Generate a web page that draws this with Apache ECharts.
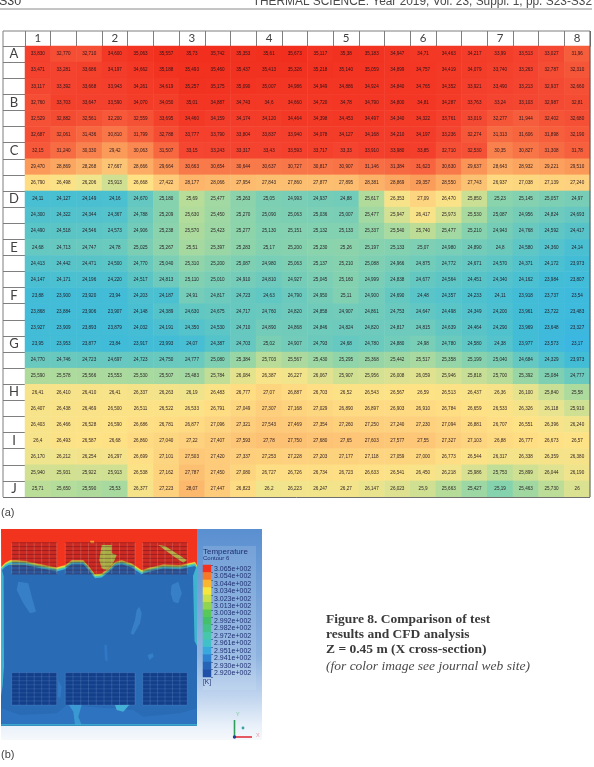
<!DOCTYPE html>
<html>
<head>
<meta charset="utf-8">
<style>html,body{margin:0;padding:0;background:#fff}#chart{width:594px;height:767px}</style>
<script src="https://cdn.jsdelivr.net/npm/echarts@6/dist/echarts.min.js"></script>
</head>
<body>
<div id="chart"></div>
<script>
// Measured temperatures (deg C) at the test grid, one list per row, written with decimal commas.
const row01 = ['33,830','32,770','32,710','34,600','35,063','35,557','35,73','35,742','35,353','35,61','35,673','35,117','35,38','35,183','34,947','34,71','34,463','34,217','33,99','33,513','33,027','31,96'];
const row02 = ['33,471','33,281','33,686','34,197','34,662','35,188','35,493','35,460','35,437','35,413','35,326','35,218','35,140','35,059','34,899','34,757','34,419','34,079','33,740','33,263','32,787','32,310'];
const row03 = ['33,117','33,392','33,668','33,943','34,261','34,619','35,257','35,175','35,090','35,007','34,986','34,949','34,886','34,924','34,840','34,765','34,352','33,921','33,490','33,213','32,937','32,660'];
const row04 = ['32,760','33,703','33,647','33,590','34,070','34,050','35,01','34,887','34,743','34,6','34,660','34,720','34,78','34,790','34,800','34,81','34,287','33,763','33,24','33,103','32,987','32,81'];
const row05 = ['32,529','32,882','32,561','32,200','32,559','33,695','34,460','34,159','34,174','34,120','34,464','34,398','34,453','34,497','34,340','34,322','33,761','33,019','32,277','31,944','32,402','32,680'];
const row06 = ['32,687','32,061','31,436','30,810','31,799','32,788','33,777','33,790','33,804','33,837','33,940','34,078','34,127','34,168','34,210','34,197','33,236','32,274','31,313','31,606','31,898','32,190'];
const row07 = ['32,15','31,240','30,330','29,42','30,063','31,507','33,15','33,243','33,317','33,43','33,593','33,717','33,33','33,910','33,980','33,85','32,710','32,530','30,35','30,827','31,308','31,78'];
const row08 = ['29,470','28,869','28,268','27,667','28,666','29,664','30,663','30,654','30,644','30,637','30,727','30,817','30,907','31,146','31,384','31,623','30,630','29,637','28,643','28,932','29,221','29,510'];
const row09 = ['26,790','26,498','26,206','25,913','26,668','27,422','28,177','28,066','27,954','27,843','27,860','27,877','27,895','28,381','28,869','29,357','28,550','27,743','26,937','27,038','27,139','27,240'];
const row10 = ['24,11','24,127','24,149','24,16','24,670','25,180','25,69','25,477','25,263','25,05','24,993','24,937','24,88','25,617','26,353','27,09','26,470','25,850','25,23','25,145','25,057','24,97'];
const row11 = ['24,300','24,322','24,344','24,367','24,788','25,209','25,630','25,450','25,270','25,090','25,063','25,036','25,007','25,477','25,947','26,417','25,973','25,530','25,087','24,956','24,824','24,693'];
const row12 = ['24,490','24,518','24,546','24,573','24,906','25,238','25,570','25,423','25,277','25,130','25,151','25,132','25,133','25,337','25,540','25,740','25,477','25,210','24,943','24,768','24,592','24,417'];
const row13 = ['24,68','24,713','24,747','24,78','25,025','25,267','25,51','25,397','25,283','25,17','25,200','25,230','25,26','25,197','25,133','25,07','24,980','24,890','24,8','24,580','24,360','24,14'];
const row14 = ['24,413','24,442','24,471','24,500','24,770','25,040','25,310','25,200','25,087','24,980','25,063','25,137','25,210','25,088','24,966','24,875','24,772','24,671','24,570','24,371','24,172','23,973'];
const row15 = ['24,147','24,171','24,196','24,220','24,517','24,813','25,110','25,010','24,910','24,810','24,927','25,045','25,160','24,999','24,838','24,677','24,564','24,451','24,340','24,162','23,984','23,807'];
const row16 = ['23,88','23,900','23,920','23,94','24,203','24,187','24,91','24,817','24,723','24,63','24,790','24,950','25,11','24,900','24,690','24,48','24,357','24,233','24,11','23,918','23,737','23,54'];
const row17 = ['23,868','23,884','23,906','23,907','24,148','24,389','24,630','24,675','24,717','24,760','24,820','24,858','24,907','24,861','24,753','24,647','24,498','24,349','24,200','23,961','23,722','23,483'];
const row18 = ['23,927','23,909','23,893','23,879','24,032','24,191','24,350','24,530','24,710','24,890','24,868','24,846','24,824','24,820','24,817','24,815','24,639','24,464','24,290','23,969','23,648','23,327'];
const row19 = ['23,95','23,953','23,877','23,84','23,917','23,993','24,07','24,387','24,703','25,02','24,907','24,793','24,68','24,780','24,880','24,98','24,780','24,580','24,38','23,977','23,573','23,17'];
const row20 = ['24,770','24,746','24,723','24,697','24,723','24,750','24,777','25,080','25,384','25,703','25,567','25,430','25,295','25,368','25,442','25,517','25,358','25,199','25,040','24,684','24,329','23,973'];
const row21 = ['25,590','25,578','25,566','25,553','25,530','25,507','25,483','25,784','26,084','26,387','26,227','26,067','25,907','25,956','26,008','26,059','25,946','25,818','25,700','25,392','25,084','24,777'];
const row22 = ['26,41','26,410','26,410','26,41','26,337','26,263','26,19','26,483','26,777','27,07','26,887','26,703','26,52','26,543','26,567','26,59','26,513','26,437','26,36','26,100','25,840','25,58'];
const row23 = ['26,407','26,438','26,469','26,500','26,511','26,522','26,533','26,791','27,049','27,307','27,168','27,029','26,890','26,897','26,903','26,910','26,784','26,659','26,533','26,326','26,118','25,910'];
const row24 = ['26,403','26,466','26,528','26,590','26,686','26,781','26,877','27,096','27,321','27,543','27,469','27,354','27,260','27,250','27,240','27,230','27,094','26,881','26,707','26,551','26,396','26,240'];
const row25 = ['26,4','26,493','26,587','26,68','26,860','27,040','27,22','27,407','27,593','27,78','27,750','27,680','27,65','27,603','27,577','27,55','27,327','27,103','26,88','26,777','26,673','26,57'];
const row26 = ['26,170','26,212','26,254','26,297','26,699','27,101','27,503','27,420','27,337','27,253','27,228','27,203','27,177','27,118','27,059','27,000','26,773','26,544','26,317','26,338','26,359','26,380'];
const row27 = ['25,940','25,931','25,922','25,913','26,538','27,162','27,787','27,450','27,080','26,727','26,726','26,734','26,723','26,633','26,541','26,450','26,218','25,986','25,753','25,899','26,044','26,190'];
const row28 = ['25,71','25,650','25,590','25,53','26,377','27,223','28,07','27,447','26,823','26,2','26,223','26,247','26,27','26,147','26,023','25,9','25,663','25,427','25,19','25,463','25,730','26'];
const tableRows = [row01,row02,row03,row04,row05,row06,row07,row08,row09,row10,row11,row12,row13,row14,row15,row16,row17,row18,row19,row20,row21,row22,row23,row24,row25,row26,row27,row28];

// Column and row headings of the test grid; only every third position is numbered or lettered.
const columnHeads = ['1','','','2','','','3','','','4','','','5','','','6','','','7','','','8'];
const rowHeads = ['A','','','B','','','C','','','D','','','E','','','F','','','G','','','H','','','I','','','J'];

// Temperature scale shared by the table cells: [deg C, colour].
const tableScale = [[23.0,'#39b6e4'],[24.0,'#43bdd6'],[24.6,'#5fc6c4'],[25.2,'#86d2ae'],[25.7,'#b9dd98'],[26.2,'#f0e48c'],[26.6,'#fee286'],[27.3,'#fdcf7c'],[28.1,'#fcb76c'],[29.4,'#fb9c5a'],[30.6,'#f87a4a'],[32.0,'#f65c3b'],[33.2,'#f44530'],[35.8,'#f22e1d']];

// CFD colour bar: contour levels from hottest to coldest.
const contourLevels = ['3.065e+002','3.054e+002','3.044e+002','3.034e+002','3.023e+002','3.013e+002','3.003e+002','2.992e+002','2.982e+002','2.972e+002','2.961e+002','2.951e+002','2.941e+002','2.930e+002','2.920e+002'];
const contourColors = ['#f4321e','#f6792a','#fbb52e','#f6e63e','#c9e04a','#90d44f','#58c858','#44c06c','#45c28c','#46c6aa','#42c0c8','#39a8dc','#2f82cf','#2764b5','#2050a8'];

// Cross-section geometry in section units (origin at the lower left corner of the tank).
const hotFront = [[0.3,159.3],[4,163.3],[9,166],[15.7,166],[24,165.3],[35.7,162.7],[55.7,158.7],[64,161],[70.7,166],[77.3,166],[82.3,166],[88.3,159.3],[94,152],[100.7,152.7],[107.3,157.7],[114,164.3],[120.7,166],[130.7,162.7],[140.7,156],[149,158.7],[162.3,161.7],[179,161],[189,163.3],[194,164.3],[196,161]];
const frontBands = [[-4.2,'#3eb6cf'],[-2.9,'#5fcb9a'],[-1.9,'#bfe04c'],[-1.1,'#f7d83a'],[-0.5,'#f89030'],[0,'#f2341f']];
const leftWall = [[0,160],[2.6,150],[3,60],[1.6,40],[0,30]];
const rightWall = [[196,161],[192,150],[193.5,85],[196,80]];
const floorHaze = [[0.7,1],[195.7,1],[195.7,17.7],[179,12.7],[142.3,9.3],[132.3,16],[65.7,21],[55.7,12.7],[19,11],[0.7,17.7]];
const leftPlume = [[17.3,144.3],[27.3,142.7],[30.7,129.3],[35,114.3],[29,112.7],[22.3,122.7],[15.7,136]];
const rightPlume = [[170.7,141],[177.3,144.3],[180.7,132.7],[177.3,122.7],[172.3,124.3],[169.7,132.7]];
const midPlume = [[138.3,119.3],[140.7,112.7],[139,102.7],[132.3,91],[129.7,92.7],[134,106],[135.7,116]];
const upperSpot = [[103.3,81],[106,81],[106.7,64.3],[104,66]];
const lowerSpot = [[146.7,71],[151.7,72.7],[152.7,69.3],[148.3,66]];
const sideSpot = [[57.3,46],[60.7,39.3],[59.3,27.7],[56.7,29.3]];
const floorJetA = [[67.3,22],[80.7,21],[77.3,9.3],[80.7,1],[74,1],[72.3,14.3]];
const floorJetB = [[114,21],[129,22],[122.3,14.3],[115.7,16]];
const floorStrip = [[0,0.6],[196,0.6],[196,1.8],[0,1.8]];
const leftBump = [[4,163],[10.7,171],[17.3,174.3],[22.3,169.3],[25.7,163]];
const midBump = [[70.7,165],[75.7,172.7],[81.7,171],[84,164]];
const wallBump = [[190.7,165],[194,174.3],[195.7,163]];
const midStreak = [[100.7,181],[110.7,181],[110.7,172.7],[115.7,171],[112.3,162.7],[105.7,156],[100.7,157.7],[98.3,166]];
const diagonalStreak = [[157.3,181],[164,180],[185.7,166],[182.3,163.3],[170.7,171]];
const hotSpot = [[89,185.3],[93,185.3],[93.3,182.7],[89.7,182.7]];

// Tube bundles: [left, right, column count] for each block and [bottom, top] for each tier.
const bundleBlocks = [[10.7,55.7,6],[64.3,134,9],[141.7,186.3,6]];
const bundleTiers = [[152,183.3],[21,53.3]];
const bundleRowCount = 8;

const toNumber = s => parseFloat(s.replace(',', '.'));

const tableData = [];
tableRows.forEach((row, y) => row.forEach((text, x) => tableData.push([x, y, toNumber(text), text])));

// Even colour list for the visual map.
function scaleColors(scale, step) {
  const hex = c => [1, 3, 5].map(i => parseInt(c.substr(i, 2), 16));
  const out = [];
  const lo = scale[0][0], hi = scale[scale.length - 1][0];
  for (let t = lo; t <= hi + 1e-6; t += step) {
    let i = 0;
    while (i < scale.length - 2 && t > scale[i + 1][0]) i++;
    const f = (t - scale[i][0]) / (scale[i + 1][0] - scale[i][0]);
    const a = hex(scale[i][1]), b = hex(scale[i + 1][1]);
    out.push('rgb(' + a.map((v, k) => Math.round(v + (b[k] - v) * f)).join(',') + ')');
  }
  return out;
}

const sectionShapes = [
  [floorHaze, '#2e73bf'], [upperSpot, '#3178c4'], [lowerSpot, '#3480c8'], [sideSpot, '#3178c4'],
  [leftPlume, '#3780c8'], [rightPlume, '#3780c8'], [midPlume, '#3780c8'],
  [floorJetA, '#3a98d2'], [floorJetB, '#45b0d6'], [floorStrip, '#3fb8cf'],
  [leftWall, '#3fb4cf'], [rightWall, '#3fb4cf'],
  [leftBump, '#4fc48c'], [leftBump.map(p => [p[0], p[1] - 1.5]), '#c5dd4a'],
  [midBump, '#4fc48c'], [midBump.map(p => [p[0], p[1] - 1.5]), '#c5dd4a'], [wallBump, '#d5d840']
];
// Every temperature band follows the hot front, closed against the tank's top edge.
frontBands.forEach(([shift, color]) => {
  sectionShapes.push([[[0, 197]].concat(hotFront.map(p => [p[0], p[1] + shift]), [[196, 197]]), color]);
});
sectionShapes.push([midStreak, '#c8d94a'], [diagonalStreak, '#d6d84a'], [hotSpot, '#f9a030']);

function renderSectionShape(params, api) {
  const shape = sectionShapes[params.dataIndex];
  return { type: 'polygon', shape: { points: shape[0].map(p => api.coord(p)) }, style: { fill: shape[1] } };
}

function renderBundle(params, api) {
  const block = bundleBlocks[params.dataIndex % 3];
  const tier = bundleTiers[Math.floor(params.dataIndex / 3)];
  const lowerTier = params.dataIndex >= 3;
  const children = [];
  const tl = api.coord([block[0], tier[1]]);
  const br = api.coord([block[1], tier[0]]);
  children.push({ type: 'rect', shape: { x: tl[0], y: tl[1], width: br[0] - tl[0], height: br[1] - tl[1] },
    style: { fill: lowerTier ? 'rgba(14,52,128,0.8)' : 'rgba(50,10,50,0.2)' } });
  const rowH = (br[1] - tl[1]) / bundleRowCount;
  for (let r = 0; r <= bundleRowCount; r++) {
    const y = tl[1] + r * rowH;
    children.push({ type: 'line', shape: { x1: tl[0], y1: y, x2: br[0], y2: y },
      style: { stroke: lowerTier ? 'rgba(120,165,225,0.3)' : 'rgba(70,5,30,0.5)', lineWidth: 0.7 } });
  }
  const colW = (br[0] - tl[0]) / block[2];
  for (let c = 0; c <= block[2]; c++) {
    const x = tl[0] + c * colW;
    children.push({ type: 'line', shape: { x1: x, y1: tl[1], x2: x, y2: br[1] },
      style: { stroke: lowerTier ? 'rgba(170,200,235,0.35)' : 'rgba(235,210,200,0.4)', lineWidth: 0.5 } });
  }
  return { type: 'group', children };
}

const edge = '#7f7f7f';
const serif = '"Liberation Serif", serif';
const sans = '"Liberation Sans", sans-serif';
const text = (x, y, str, font, fill, extra) => ({
  type: 'text', x, y, z: 10, silent: true,
  style: Object.assign({ text: str, font, fill, textVerticalAlign: 'middle' }, extra || {})
});
const rule = (x1, y1, x2, y2, stroke, w) => ({
  type: 'line', z: 9, silent: true, shape: { x1, y1, x2, y2 }, style: { stroke, lineWidth: w || 1 }
});

const chart = echarts.init(document.getElementById('chart'), null, { renderer: 'canvas' });
chart.setOption({
  animation: false,
  backgroundColor: '#ffffff',
  grid: [
    { left: 25, top: 46, width: 565, height: 451, containLabel: false },
    { left: 1, top: 529, width: 196, height: 197, show: true, backgroundColor: '#2a6bb5', borderWidth: 0 },
    { left: 203, top: 565, width: 8, height: 112 }
  ],
  xAxis: [
    { gridIndex: 0, type: 'category', position: 'top', data: columnHeads,
      axisLine: { show: true, lineStyle: { color: '#555', width: 1 } },
      axisTick: { show: true, interval: 0, length: 15, alignWithLabel: false, lineStyle: { color: edge, width: 1 } },
      axisLabel: { show: true, interval: 0, margin: 8, verticalAlign: 'middle', color: '#404040', fontFamily: 'Lato', fontSize: 11.5 },
      splitLine: { show: false } },
    { gridIndex: 1, type: 'value', min: 0, max: 196, show: false },
    { gridIndex: 2, type: 'category', data: ['bar'], show: false }
  ],
  yAxis: [
    { gridIndex: 0, type: 'category', inverse: true, data: rowHeads,
      axisLine: { show: true, lineStyle: { color: edge, width: 1 } },
      axisTick: { show: true, interval: 0, length: 22, alignWithLabel: false, lineStyle: { color: edge, width: 1 } },
      axisLabel: { show: true, interval: 0, margin: 11, align: 'center', color: '#404040', fontFamily: 'Lato', fontSize: 13 },
      splitLine: { show: false } },
    { gridIndex: 1, type: 'value', min: 0, max: 197, show: false },
    { gridIndex: 2, type: 'category', inverse: true, position: 'right', data: contourLevels,
      axisLine: { show: false }, axisTick: { show: true, interval: 0, length: 2, inside: false, lineStyle: { color: '#2a3f7a', width: 0.6 } },
      axisLabel: { show: true, interval: 0, margin: 3, color: '#1f2f70', fontFamily: 'Liberation Sans', fontSize: 7 } }
  ],
  visualMap: [
    { show: false, seriesIndex: 0, min: tableScale[0][0], max: tableScale[tableScale.length - 1][0], dimension: 2,
      inRange: { color: scaleColors(tableScale, 0.1) } }
  ],
  series: [
    { type: 'heatmap', xAxisIndex: 0, yAxisIndex: 0, data: tableData, silent: true, encode: { x: 0, y: 1, value: 2 },
      label: { show: true, fontSize: 4.6, fontFamily: 'Liberation Sans', color: 'rgba(30,15,25,0.92)',
        formatter: p => p.data[3] },
      itemStyle: { borderWidth: 0 } },
    { type: 'custom', xAxisIndex: 1, yAxisIndex: 1, silent: true, clip: true, renderItem: renderSectionShape,
      data: sectionShapes.map((s, i) => [i]) , encode: { x: -1, y: -1 } },
    { type: 'custom', xAxisIndex: 1, yAxisIndex: 1, silent: true, clip: true, renderItem: renderBundle, z: 3,
      data: [0, 1, 2, 3, 4, 5].map(i => [i]), encode: { x: -1, y: -1 } },
    { type: 'heatmap', xAxisIndex: 2, yAxisIndex: 2, silent: true,
      data: contourLevels.map((c, i) => ({ value: [0, i, parseFloat(c)], itemStyle: { color: contourColors[i] } })) }
  ],
  graphic: [
    { type: 'rect', z: -5, silent: true, shape: { x: 1, y: 529, width: 261, height: 211 },
      style: { fill: new echarts.graphic.LinearGradient(0, 0, 0, 1, [
        { offset: 0, color: '#5a8fd0' }, { offset: 0.6, color: '#8fb4e0' }, { offset: 0.8, color: '#c2d6ef' }, { offset: 0.93, color: '#e8f0f9' }, { offset: 1, color: '#f6f9fc' }]) } },
    { type: 'rect', z: -4, silent: true, shape: { x: 203, y: 546, width: 53, height: 144 }, style: { fill: 'rgba(225,235,250,0.16)' } },
    rule(0, 9, 592, 9, '#8a8a8a', 1),
    rule(3, 31, 25, 31, edge), rule(25, 31, 590, 31, edge), rule(3, 31, 3, 497, edge),
    rule(590, 31, 590, 497, '#555'), rule(3, 497.5, 590, 497.5, '#6f6f6f'),
    text(-1, 2, 'S30', '12.5px ' + sans, '#3f3f3f'),
    text(592, 2, 'THERMAL SCIENCE: Year 2019, Vol. 23, Suppl. 1, pp. S23-S32', '11.9px ' + sans, '#4a4a4a', { textAlign: 'right' }),
    text(1, 513, '(a)', '11px ' + sans, '#444'),
    text(1, 755, '(b)', '11px ' + sans, '#444'),
    text(326, 620, 'Figure 8. Comparison of test', 'bold 13.5px ' + serif, '#3a3a3a'),
    text(326, 635, 'results and CFD analysis', 'bold 13.5px ' + serif, '#3a3a3a'),
    text(326, 650, 'Z = 0.45 m (X cross-section)', 'bold 13.5px ' + serif, '#3a3a3a'),
    text(326, 666, '(for color image see journal web site)', 'italic 13.5px ' + serif, '#4a4a4a'),
    text(203, 552, 'Temperature', '8px ' + sans, '#1f2f70'),
    text(203, 558, 'Contour 6', '6px ' + sans, '#1f2f70'),
    text(203, 682, '[K]', '6.5px ' + sans, '#1f2f70'),
    rule(234.5, 737, 234.5, 720, '#2f9e5a', 1.6),
    rule(234.5, 737, 252, 737, '#e0303a', 1.6),
    { type: 'circle', z: 9, silent: true, shape: { cx: 243, cy: 728, r: 1.4 }, style: { fill: '#38a0a8' } },
    { type: 'circle', z: 9, silent: true, shape: { cx: 234.5, cy: 737, r: 1.7 }, style: { fill: '#1c3f9a' } },
    text(236, 714, 'Y', '5.5px ' + sans, '#7fc89a'),
    text(256, 735, 'X', '5.5px ' + sans, '#e9a0a8')
  ]
});
</script>
</body>
</html>
